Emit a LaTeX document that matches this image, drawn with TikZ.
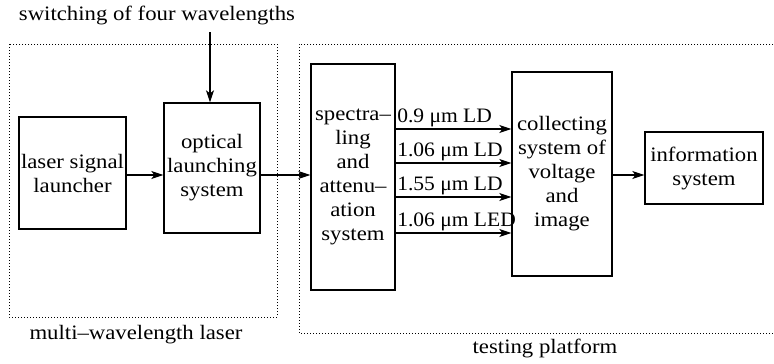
\documentclass[tikz,border=0pt]{standalone}
\usepackage{fontspec}
\setmainfont[FakeStretch=1.11]{Liberation Serif}
\newfontfamily\wlfont[FakeStretch=1.05]{Liberation Serif}
\usetikzlibrary{arrows.meta}
\begin{document}
\begin{tikzpicture}[x=1pt,y=-1pt,
  box/.style={draw,line width=1.3pt,align=center,inner sep=0pt,font=\rmfamily\fontsize{20.5}{24}\selectfont},
  arr/.style={line width=1.3pt,-{Stealth[length=12pt,width=8pt,inset=3pt]}},
  dotbox/.style={dotted,line width=1pt},
  lbl/.style={font=\rmfamily\fontsize{20.5}{24}\selectfont,inner sep=0pt},
  wl/.style={font=\wlfont\fontsize{20.5}{24}\selectfont,inner sep=1pt,anchor=south west}]
\useasboundingbox (0,0) rectangle (774,364);
% dotted groups
\draw[dotbox] (9,44) rectangle (277,317);
\draw[dotbox] (776,44) -- (299,44) -- (299,333) -- (776,333);
\node[lbl] (mwl) at (136,335) {multi{\char"2013}wavelength laser};
\node[lbl] (tp) at (545,348) {testing platform};
\node[lbl] (sw) at (157,15) {switching of four wavelengths};
% boxes
\node[box,minimum width=107pt,minimum height=112pt] (laser) at (72.5,173) {laser signal\\launcher};
\node[box,minimum width=96pt,minimum height=130pt] (optical) at (212,168) {optical\\launching\\system};
\node[box,minimum width=84pt,minimum height=226pt] (spectra) at (353,177) {spectra{\char"2013}\\ling\\and\\attenu{\char"2013}\\ation\\system};
\node[box,minimum width=100pt,minimum height=204pt] (collect) at (562,174) {collecting\\system of\\voltage\\and\\image};
\node[box,minimum width=118pt,minimum height=72pt] (info) at (704,168) {information\\system};
% connectors
\coordinate (swtop) at (210,32);
\draw[arr] (swtop) -- (swtop |- optical.north);
\coordinate (main) at (0,175);
\draw[arr] (laser.east |- main) -- (optical.west |- main);
\draw[arr] (optical.east |- main) -- (spectra.west |- main);
\draw[arr] (collect.east |- main) -- (info.west |- main);
\coordinate (r1) at (0,129);
\coordinate (r2) at (0,163);
\coordinate (r3) at (0,197);
\coordinate (r4) at (0,233);
\draw[arr] (spectra.east |- r1) -- (collect.west |- r1) node[wl] at (spectra.east |- r1) {0.9 μm LD};
\draw[arr] (spectra.east |- r2) -- (collect.west |- r2) node[wl] at (spectra.east |- r2) {1.06 μm LD};
\draw[arr] (spectra.east |- r3) -- (collect.west |- r3) node[wl] at (spectra.east |- r3) {1.55 μm LD};
\draw[arr] (spectra.east |- r4) -- (collect.west |- r4) node[wl] at (spectra.east |- r4) {1.06 μm LED};
\end{tikzpicture}
\end{document}
